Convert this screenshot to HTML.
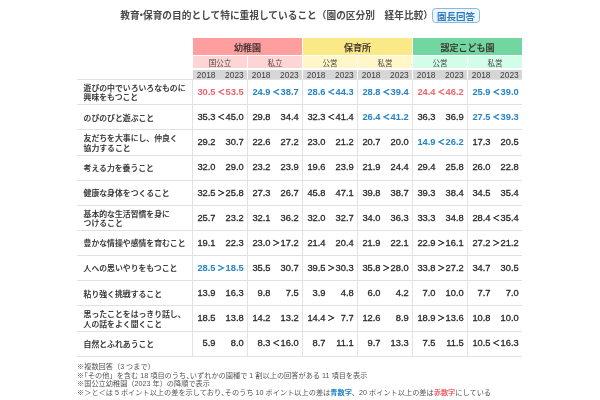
<!DOCTYPE html>
<html lang="ja"><head><meta charset="utf-8"><title>教育・保育の目的として特に重視していること</title>
<style>
*{margin:0;padding:0;box-sizing:border-box}
html,body{width:600px;height:400px;background:#fff;overflow:hidden}
body{position:relative;font-family:"Liberation Sans","Noto Sans CJK JP",sans-serif;color:#333}
.a{position:absolute;white-space:nowrap}
.ti{font-size:9.7px;font-weight:bold;line-height:1;color:#4a4a4a}
.sp{position:relative}
.bd{border:1px solid #88b9e0;background:#ecf6fd;border-radius:3.5px;color:#2f7abb;font-size:9.5px;font-weight:bold;text-align:center}
.hd{font-size:9px;font-weight:500;-webkit-text-stroke:0.15px currentColor;text-align:center;color:#3a3030}
.sh{font-size:7.5px;text-align:center;color:#444}
.yr{font-size:8px;color:#333;background:#d6d6d6}
.lab{font-size:7.85px;line-height:9.5px;color:#2e2e2e;font-weight:500;-webkit-text-stroke:0.12px currentColor}
.n{font-size:9.3px;line-height:1;color:#2a2a2a;text-align:right;-webkit-text-stroke:0.3px currentColor}
.op{font-family:'Liberation Sans','Noto Sans CJK JP',sans-serif;-webkit-text-stroke:0.5px currentColor;font-size:7.4px}
.nd{display:inline-block;margin:0 -3.2px}
.hq{display:inline-block;margin-left:-3.5px}
.hw{display:inline-block;margin-right:-3.5px}
.r{color:#e9666e;font-weight:bold;-webkit-text-stroke:0}.b{color:#2582c4;font-weight:bold;-webkit-text-stroke:0}
.op.r,.op.b{-webkit-text-stroke:0.5px currentColor}
.hl{background:#e2e2e2;height:1px}
.vl{background:#e2e2e2;width:1px}
.ft{font-size:7.2px;line-height:8.55px;color:#555}
</style></head><body>

<div class="a ti" style="left:120.3px;top:11.1px">教育<span class="nd">・</span>保育の目的として特に重視していること（園の区分別　経年比較）</div>
<div class="a bd" style="left:432px;top:8px;width:48px;height:15px;line-height:13px"><span class="sp" style="top:0.5px">園長回答</span></div>
<div class="a hd" style="left:193px;top:38px;width:109px;height:17px;line-height:17px;background:#fe9e9f"><span class="sp" style="top:2px">幼稚園</span></div>
<div class="a sh" style="left:193px;top:56px;width:54px;height:12px;line-height:12px;background:#ffd4d4"><span class="sp" style="top:1.6px">国公立</span></div>
<div class="a yr" style="left:193px;top:70px;width:54px;height:9px"></div>
<div class="a n" style="font-size:8.4px;-webkit-text-stroke:0;color:#3a3a3a;right:384.50px;top:70.50px">2018</div>
<div class="a n" style="font-size:8.4px;-webkit-text-stroke:0;color:#3a3a3a;right:356.30px;top:70.50px">2023</div>
<div class="a sh" style="left:248px;top:56px;width:54px;height:12px;line-height:12px;background:#ffd4d4"><span class="sp" style="top:1.6px">私立</span></div>
<div class="a yr" style="left:248px;top:70px;width:54px;height:9px"></div>
<div class="a n" style="font-size:8.4px;-webkit-text-stroke:0;color:#3a3a3a;right:329.50px;top:70.50px">2018</div>
<div class="a n" style="font-size:8.4px;-webkit-text-stroke:0;color:#3a3a3a;right:301.30px;top:70.50px">2023</div>
<div class="a hd" style="left:303px;top:38px;width:109px;height:17px;line-height:17px;background:#fae986"><span class="sp" style="top:2px">保育所</span></div>
<div class="a sh" style="left:303px;top:56px;width:54px;height:12px;line-height:12px;background:#fff7c9"><span class="sp" style="top:1.6px">公営</span></div>
<div class="a yr" style="left:303px;top:70px;width:54px;height:9px"></div>
<div class="a n" style="font-size:8.4px;-webkit-text-stroke:0;color:#3a3a3a;right:274.50px;top:70.50px">2018</div>
<div class="a n" style="font-size:8.4px;-webkit-text-stroke:0;color:#3a3a3a;right:246.30px;top:70.50px">2023</div>
<div class="a sh" style="left:358px;top:56px;width:54px;height:12px;line-height:12px;background:#fff7c9"><span class="sp" style="top:1.6px">私営</span></div>
<div class="a yr" style="left:358px;top:70px;width:54px;height:9px"></div>
<div class="a n" style="font-size:8.4px;-webkit-text-stroke:0;color:#3a3a3a;right:219.50px;top:70.50px">2018</div>
<div class="a n" style="font-size:8.4px;-webkit-text-stroke:0;color:#3a3a3a;right:191.30px;top:70.50px">2023</div>
<div class="a hd" style="left:413px;top:38px;width:109px;height:17px;line-height:17px;background:#71d6a0"><span class="sp" style="top:2px">認定こども園</span></div>
<div class="a sh" style="left:413px;top:56px;width:54px;height:12px;line-height:12px;background:#d2fde8"><span class="sp" style="top:1.6px">公営</span></div>
<div class="a yr" style="left:413px;top:70px;width:54px;height:9px"></div>
<div class="a n" style="font-size:8.4px;-webkit-text-stroke:0;color:#3a3a3a;right:164.50px;top:70.50px">2018</div>
<div class="a n" style="font-size:8.4px;-webkit-text-stroke:0;color:#3a3a3a;right:136.30px;top:70.50px">2023</div>
<div class="a sh" style="left:468px;top:56px;width:54px;height:12px;line-height:12px;background:#d2fde8"><span class="sp" style="top:1.6px">私営</span></div>
<div class="a yr" style="left:468px;top:70px;width:54px;height:9px"></div>
<div class="a n" style="font-size:8.4px;-webkit-text-stroke:0;color:#3a3a3a;right:109.50px;top:70.50px">2018</div>
<div class="a n" style="font-size:8.4px;-webkit-text-stroke:0;color:#3a3a3a;right:81.30px;top:70.50px">2023</div>
<div class="a hl" style="left:77px;top:79.10px;width:445px"></div>
<div class="a hl" style="left:77px;top:104.25px;width:445px"></div>
<div class="a hl" style="left:77px;top:129.40px;width:445px"></div>
<div class="a hl" style="left:77px;top:154.55px;width:445px"></div>
<div class="a hl" style="left:77px;top:179.70px;width:445px"></div>
<div class="a hl" style="left:77px;top:204.85px;width:445px"></div>
<div class="a hl" style="left:77px;top:230.00px;width:445px"></div>
<div class="a hl" style="left:77px;top:255.15px;width:445px"></div>
<div class="a hl" style="left:77px;top:280.30px;width:445px"></div>
<div class="a hl" style="left:77px;top:305.45px;width:445px"></div>
<div class="a hl" style="left:77px;top:330.60px;width:445px"></div>
<div class="a hl" style="left:77px;top:355.75px;width:445px"></div>
<div class="a vl" style="left:192px;top:79.10px;height:276.65px"></div>
<div class="a vl" style="left:247px;top:79.10px;height:276.65px"></div>
<div class="a vl" style="left:302px;top:79.10px;height:276.65px"></div>
<div class="a vl" style="left:357px;top:79.10px;height:276.65px"></div>
<div class="a vl" style="left:412px;top:79.10px;height:276.65px"></div>
<div class="a vl" style="left:467px;top:79.10px;height:276.65px"></div>
<div class="a lab" style="left:83.6px;top:83.92px">遊びの中でいろいろなものに<br>興味をもつこと</div>
<div class="a n r" style="right:384.50px;top:88.00px">30.5</div>
<div class="a n r" style="right:356.30px;top:88.00px">53.5</div>
<div class="a n op r" style="left:221.10px;top:88.00px;width:10px;margin-left:-5px;text-align:center">＜</div>
<div class="a n b" style="right:329.50px;top:88.00px">24.9</div>
<div class="a n b" style="right:301.30px;top:88.00px">38.7</div>
<div class="a n op b" style="left:276.10px;top:88.00px;width:10px;margin-left:-5px;text-align:center">＜</div>
<div class="a n b" style="right:274.50px;top:88.00px">28.6</div>
<div class="a n b" style="right:246.30px;top:88.00px">44.3</div>
<div class="a n op b" style="left:331.10px;top:88.00px;width:10px;margin-left:-5px;text-align:center">＜</div>
<div class="a n b" style="right:219.50px;top:88.00px">28.8</div>
<div class="a n b" style="right:191.30px;top:88.00px">39.4</div>
<div class="a n op b" style="left:386.10px;top:88.00px;width:10px;margin-left:-5px;text-align:center">＜</div>
<div class="a n r" style="right:164.50px;top:88.00px">24.4</div>
<div class="a n r" style="right:136.30px;top:88.00px">46.2</div>
<div class="a n op r" style="left:441.10px;top:88.00px;width:10px;margin-left:-5px;text-align:center">＜</div>
<div class="a n b" style="right:109.50px;top:88.00px">25.9</div>
<div class="a n b" style="right:81.30px;top:88.00px">39.0</div>
<div class="a n op b" style="left:496.10px;top:88.00px;width:10px;margin-left:-5px;text-align:center">＜</div>
<div class="a lab" style="left:83.6px;top:113.58px">のびのびと遊ぶこと</div>
<div class="a n" style="right:384.50px;top:113.00px">35.3</div>
<div class="a n" style="right:356.30px;top:113.00px">45.0</div>
<div class="a n op" style="left:221.10px;top:113.00px;width:10px;margin-left:-5px;text-align:center">＜</div>
<div class="a n" style="right:329.50px;top:113.00px">29.8</div>
<div class="a n" style="right:301.30px;top:113.00px">34.4</div>
<div class="a n" style="right:274.50px;top:113.00px">32.3</div>
<div class="a n" style="right:246.30px;top:113.00px">41.4</div>
<div class="a n op" style="left:331.10px;top:113.00px;width:10px;margin-left:-5px;text-align:center">＜</div>
<div class="a n b" style="right:219.50px;top:113.00px">26.4</div>
<div class="a n b" style="right:191.30px;top:113.00px">41.2</div>
<div class="a n op b" style="left:386.10px;top:113.00px;width:10px;margin-left:-5px;text-align:center">＜</div>
<div class="a n" style="right:164.50px;top:113.00px">36.3</div>
<div class="a n" style="right:136.30px;top:113.00px">36.9</div>
<div class="a n b" style="right:109.50px;top:113.00px">27.5</div>
<div class="a n b" style="right:81.30px;top:113.00px">39.3</div>
<div class="a n op b" style="left:496.10px;top:113.00px;width:10px;margin-left:-5px;text-align:center">＜</div>
<div class="a lab" style="left:83.6px;top:134.22px">友だちを大事にし、仲良く<br>協力すること</div>
<div class="a n" style="right:384.50px;top:138.00px">29.2</div>
<div class="a n" style="right:356.30px;top:138.00px">30.7</div>
<div class="a n" style="right:329.50px;top:138.00px">22.6</div>
<div class="a n" style="right:301.30px;top:138.00px">27.2</div>
<div class="a n" style="right:274.50px;top:138.00px">23.0</div>
<div class="a n" style="right:246.30px;top:138.00px">21.2</div>
<div class="a n" style="right:219.50px;top:138.00px">20.7</div>
<div class="a n" style="right:191.30px;top:138.00px">20.0</div>
<div class="a n b" style="right:164.50px;top:138.00px">14.9</div>
<div class="a n b" style="right:136.30px;top:138.00px">26.2</div>
<div class="a n op b" style="left:441.10px;top:138.00px;width:10px;margin-left:-5px;text-align:center">＜</div>
<div class="a n" style="right:109.50px;top:138.00px">17.3</div>
<div class="a n" style="right:81.30px;top:138.00px">20.5</div>
<div class="a lab" style="left:83.6px;top:163.87px">考える力を養うこと</div>
<div class="a n" style="right:384.50px;top:163.00px">32.0</div>
<div class="a n" style="right:356.30px;top:163.00px">29.0</div>
<div class="a n" style="right:329.50px;top:163.00px">23.2</div>
<div class="a n" style="right:301.30px;top:163.00px">23.9</div>
<div class="a n" style="right:274.50px;top:163.00px">19.6</div>
<div class="a n" style="right:246.30px;top:163.00px">23.9</div>
<div class="a n" style="right:219.50px;top:163.00px">21.9</div>
<div class="a n" style="right:191.30px;top:163.00px">24.4</div>
<div class="a n" style="right:164.50px;top:163.00px">29.4</div>
<div class="a n" style="right:136.30px;top:163.00px">25.8</div>
<div class="a n" style="right:109.50px;top:163.00px">26.0</div>
<div class="a n" style="right:81.30px;top:163.00px">22.8</div>
<div class="a lab" style="left:83.6px;top:189.02px">健康な身体をつくること</div>
<div class="a n" style="right:384.50px;top:189.00px">32.5</div>
<div class="a n" style="right:356.30px;top:189.00px">25.8</div>
<div class="a n op" style="left:221.10px;top:189.00px;width:10px;margin-left:-5px;text-align:center">＞</div>
<div class="a n" style="right:329.50px;top:189.00px">27.3</div>
<div class="a n" style="right:301.30px;top:189.00px">26.7</div>
<div class="a n" style="right:274.50px;top:189.00px">45.8</div>
<div class="a n" style="right:246.30px;top:189.00px">47.1</div>
<div class="a n" style="right:219.50px;top:189.00px">39.8</div>
<div class="a n" style="right:191.30px;top:189.00px">38.7</div>
<div class="a n" style="right:164.50px;top:189.00px">39.3</div>
<div class="a n" style="right:136.30px;top:189.00px">38.4</div>
<div class="a n" style="right:109.50px;top:189.00px">34.5</div>
<div class="a n" style="right:81.30px;top:189.00px">35.4</div>
<div class="a lab" style="left:83.6px;top:209.67px">基本的な生活習慣を身に<br>つけること</div>
<div class="a n" style="right:384.50px;top:214.00px">25.7</div>
<div class="a n" style="right:356.30px;top:214.00px">23.2</div>
<div class="a n" style="right:329.50px;top:214.00px">32.1</div>
<div class="a n" style="right:301.30px;top:214.00px">36.2</div>
<div class="a n" style="right:274.50px;top:214.00px">32.0</div>
<div class="a n" style="right:246.30px;top:214.00px">32.7</div>
<div class="a n" style="right:219.50px;top:214.00px">34.0</div>
<div class="a n" style="right:191.30px;top:214.00px">36.3</div>
<div class="a n" style="right:164.50px;top:214.00px">33.3</div>
<div class="a n" style="right:136.30px;top:214.00px">34.8</div>
<div class="a n" style="right:109.50px;top:214.00px">28.4</div>
<div class="a n" style="right:81.30px;top:214.00px">35.4</div>
<div class="a n op" style="left:496.10px;top:214.00px;width:10px;margin-left:-5px;text-align:center">＜</div>
<div class="a lab" style="left:83.6px;top:239.32px">豊かな情操や感情を育むこと</div>
<div class="a n" style="right:384.50px;top:239.00px">19.1</div>
<div class="a n" style="right:356.30px;top:239.00px">22.3</div>
<div class="a n" style="right:329.50px;top:239.00px">23.0</div>
<div class="a n" style="right:301.30px;top:239.00px">17.2</div>
<div class="a n op" style="left:276.10px;top:239.00px;width:10px;margin-left:-5px;text-align:center">＞</div>
<div class="a n" style="right:274.50px;top:239.00px">21.4</div>
<div class="a n" style="right:246.30px;top:239.00px">20.4</div>
<div class="a n" style="right:219.50px;top:239.00px">21.9</div>
<div class="a n" style="right:191.30px;top:239.00px">22.1</div>
<div class="a n" style="right:164.50px;top:239.00px">22.9</div>
<div class="a n" style="right:136.30px;top:239.00px">16.1</div>
<div class="a n op" style="left:441.10px;top:239.00px;width:10px;margin-left:-5px;text-align:center">＞</div>
<div class="a n" style="right:109.50px;top:239.00px">27.2</div>
<div class="a n" style="right:81.30px;top:239.00px">21.2</div>
<div class="a n op" style="left:496.10px;top:239.00px;width:10px;margin-left:-5px;text-align:center">＞</div>
<div class="a lab" style="left:83.6px;top:264.47px">人への思いやりをもつこと</div>
<div class="a n b" style="right:384.50px;top:264.00px">28.5</div>
<div class="a n b" style="right:356.30px;top:264.00px">18.5</div>
<div class="a n op b" style="left:221.10px;top:264.00px;width:10px;margin-left:-5px;text-align:center">＞</div>
<div class="a n" style="right:329.50px;top:264.00px">35.5</div>
<div class="a n" style="right:301.30px;top:264.00px">30.7</div>
<div class="a n" style="right:274.50px;top:264.00px">39.5</div>
<div class="a n" style="right:246.30px;top:264.00px">30.3</div>
<div class="a n op" style="left:331.10px;top:264.00px;width:10px;margin-left:-5px;text-align:center">＞</div>
<div class="a n" style="right:219.50px;top:264.00px">35.8</div>
<div class="a n" style="right:191.30px;top:264.00px">28.0</div>
<div class="a n op" style="left:386.10px;top:264.00px;width:10px;margin-left:-5px;text-align:center">＞</div>
<div class="a n" style="right:164.50px;top:264.00px">33.8</div>
<div class="a n" style="right:136.30px;top:264.00px">27.2</div>
<div class="a n op" style="left:441.10px;top:264.00px;width:10px;margin-left:-5px;text-align:center">＞</div>
<div class="a n" style="right:109.50px;top:264.00px">34.7</div>
<div class="a n" style="right:81.30px;top:264.00px">30.5</div>
<div class="a lab" style="left:83.6px;top:289.62px">粘り強く挑戦すること</div>
<div class="a n" style="right:384.50px;top:289.00px">13.9</div>
<div class="a n" style="right:356.30px;top:289.00px">16.3</div>
<div class="a n" style="right:329.50px;top:289.00px">9.8</div>
<div class="a n" style="right:301.30px;top:289.00px">7.5</div>
<div class="a n" style="right:274.50px;top:289.00px">3.9</div>
<div class="a n" style="right:246.30px;top:289.00px">4.8</div>
<div class="a n" style="right:219.50px;top:289.00px">6.0</div>
<div class="a n" style="right:191.30px;top:289.00px">4.2</div>
<div class="a n" style="right:164.50px;top:289.00px">7.0</div>
<div class="a n" style="right:136.30px;top:289.00px">10.0</div>
<div class="a n" style="right:109.50px;top:289.00px">7.7</div>
<div class="a n" style="right:81.30px;top:289.00px">7.0</div>
<div class="a lab" style="left:83.6px;top:310.27px">思ったことをはっきり話し、<br>人の話をよく聞くこと</div>
<div class="a n" style="right:384.50px;top:314.00px">18.5</div>
<div class="a n" style="right:356.30px;top:314.00px">13.8</div>
<div class="a n" style="right:329.50px;top:314.00px">14.2</div>
<div class="a n" style="right:301.30px;top:314.00px">13.2</div>
<div class="a n" style="right:274.50px;top:314.00px">14.4</div>
<div class="a n" style="right:246.30px;top:314.00px">7.7</div>
<div class="a n op" style="left:331.10px;top:314.00px;width:10px;margin-left:-5px;text-align:center">＞</div>
<div class="a n" style="right:219.50px;top:314.00px">12.6</div>
<div class="a n" style="right:191.30px;top:314.00px">8.9</div>
<div class="a n" style="right:164.50px;top:314.00px">18.9</div>
<div class="a n" style="right:136.30px;top:314.00px">13.6</div>
<div class="a n op" style="left:441.10px;top:314.00px;width:10px;margin-left:-5px;text-align:center">＞</div>
<div class="a n" style="right:109.50px;top:314.00px">10.8</div>
<div class="a n" style="right:81.30px;top:314.00px">10.0</div>
<div class="a lab" style="left:83.6px;top:339.93px">自然とふれあうこと</div>
<div class="a n" style="right:384.50px;top:339.00px">5.9</div>
<div class="a n" style="right:356.30px;top:339.00px">8.0</div>
<div class="a n" style="right:329.50px;top:339.00px">8.3</div>
<div class="a n" style="right:301.30px;top:339.00px">16.0</div>
<div class="a n op" style="left:276.10px;top:339.00px;width:10px;margin-left:-5px;text-align:center">＜</div>
<div class="a n" style="right:274.50px;top:339.00px">8.7</div>
<div class="a n" style="right:246.30px;top:339.00px">11.1</div>
<div class="a n" style="right:219.50px;top:339.00px">9.7</div>
<div class="a n" style="right:191.30px;top:339.00px">13.3</div>
<div class="a n" style="right:164.50px;top:339.00px">7.5</div>
<div class="a n" style="right:136.30px;top:339.00px">11.5</div>
<div class="a n" style="right:109.50px;top:339.00px">10.5</div>
<div class="a n" style="right:81.30px;top:339.00px">16.3</div>
<div class="a n op" style="left:496.10px;top:339.00px;width:10px;margin-left:-5px;text-align:center">＜</div>
<div class="a ft" style="left:77px;top:363.1px">※複数回答（3 つまで）<br>※<span class="hq">「</span>その他」を含む 18 項目のうち<span class="hw">、</span>いずれかの園種で 1 割以上の回答がある 11 項目を表示<br>※国公立幼稚園（2023 年）の降順で表示<br>※＞と＜は 5 ポイント以上の差を示しており<span class="hw">、</span>そのうち 10 ポイント以上の差は<span style="color:#2582c4;font-weight:bold">青数字</span>、20 ポイント以上の差は<span style="color:#e9666e;font-weight:bold">赤数字</span>にしている</div>
</body></html>
